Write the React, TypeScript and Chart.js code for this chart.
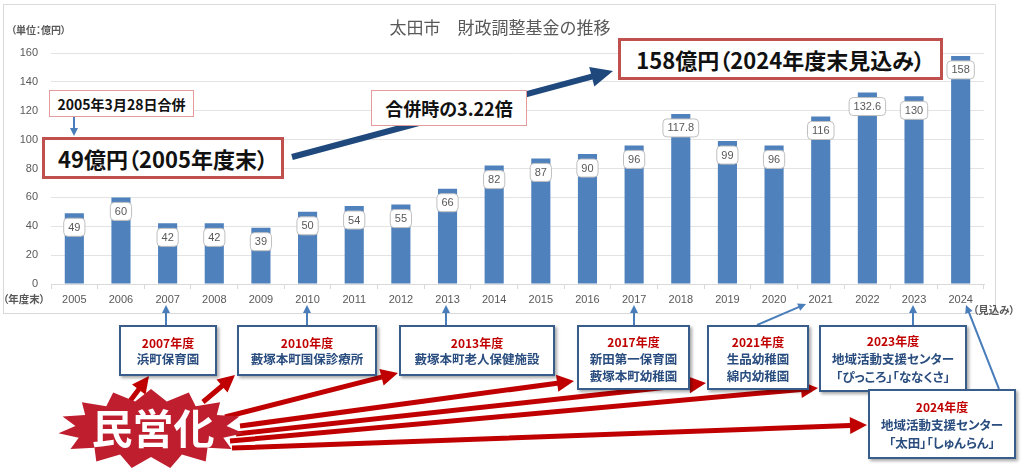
import { useEffect, useRef } from "react";
import { Chart, registerables, Plugin } from "chart.js";

Chart.register(...registerables);

const years = [
  "2005", "2006", "2007", "2008", "2009", "2010", "2011", "2012", "2013", "2014",
  "2015", "2016", "2017", "2018", "2019", "2020", "2021", "2022", "2023", "2024",
];
const fundValues = [49, 60, 42, 42, 39, 50, 54, 55, 66, 82, 87, 90, 96, 117.8, 99, 96, 116, 132.6, 130, 158];
const yMin = 0;
const yMax = 160;
const yStep = 20;

const facilityYears = ["2007年度", "2010年度", "2013年度", "2017年度", "2021年度", "2023年度", "2024年度"];
const facilityNames = [
  ["浜町保育園"],
  ["藪塚本町国保診療所"],
  ["藪塚本町老人保健施設"],
  ["新田第一保育園", "藪塚本町幼稚園"],
  ["生品幼稚園", "綿内幼稚園"],
  ["地域活動支援センター", "「ぴっころ」「ななくさ」"],
  ["地域活動支援センター", "「太田」「しゅんらん」"],
];

const jp = "'Noto Sans CJK JP', sans-serif";
const num = "'Liberation Sans', sans-serif";

// white rounded label sitting just under the top of each bar
const valueBoxPlugin: Plugin<"bar"> = {
  id: "valueBoxes",
  afterDatasetsDraw: (chart) => {
    const { ctx } = chart;
    const meta = chart.getDatasetMeta(0);
    ctx.save();
    ctx.font = `11px ${num}`;
    ctx.textAlign = "center";
    ctx.textBaseline = "middle";
    meta.data.forEach((bar, i) => {
      const text = String(fundValues[i]);
      const w = ctx.measureText(text).width + 9;
      const h = 18;
      const x = bar.x - w / 2;
      const y = bar.y + 5;
      ctx.beginPath();
      ctx.roundRect(x, y, w, h, 4);
      ctx.fillStyle = "#fff";
      ctx.fill();
      ctx.strokeStyle = "#BFBFBF";
      ctx.lineWidth = 1;
      ctx.stroke();
      ctx.fillStyle = "#595959";
      ctx.fillText(text, bar.x, y + h / 2 + 0.5);
    });
    ctx.restore();
  },
};

// polygon for a straight arrow with a triangular head
function arrowPoints(x1: number, y1: number, x2: number, y2: number, w: number, hl: number, hw: number) {
  const dx = x2 - x1;
  const dy = y2 - y1;
  const len = Math.hypot(dx, dy);
  const ux = dx / len;
  const uy = dy / len;
  const nx = -uy;
  const ny = ux;
  const bx = x2 - ux * hl;
  const by = y2 - uy * hl;
  const pts = [
    [x1 + (nx * w) / 2, y1 + (ny * w) / 2],
    [bx + (nx * w) / 2, by + (ny * w) / 2],
    [bx + (nx * hw) / 2, by + (ny * hw) / 2],
    [x2, y2],
    [bx - (nx * hw) / 2, by - (ny * hw) / 2],
    [bx - (nx * w) / 2, by - (ny * w) / 2],
    [x1 - (nx * w) / 2, y1 - (ny * w) / 2],
  ];
  return pts.map((p) => p.map((v) => v.toFixed(1)).join(",")).join(" ");
}

function starPoints(cx: number, cy: number, rx: number, ry: number, irx: number, iry: number, n: number) {
  const pts: string[] = [];
  for (let i = 0; i < n * 2; i++) {
    const a = (Math.PI * i) / n - Math.PI / 2;
    const outer = i % 2 === 0;
    const x = cx + Math.cos(a) * (outer ? rx : irx);
    const y = cy + Math.sin(a) * (outer ? ry : iry);
    pts.push(`${x.toFixed(1)},${y.toFixed(1)}`);
  }
  return pts.join(" ");
}

const boxLayout = [
  { left: 119, top: 325, width: 98, height: 51, lh: 16 },
  { left: 237, top: 325, width: 140, height: 51, lh: 16 },
  { left: 399, top: 325, width: 156, height: 51, lh: 16 },
  { left: 577, top: 325, width: 113, height: 65, lh: 17 },
  { left: 707, top: 325, width: 102, height: 65, lh: 17 },
  { left: 819, top: 325, width: 148, height: 67, lh: 18 },
  { left: 868, top: 389, width: 148, height: 70, lh: 18 },
];

const blueArrows = [
  [74, 117, 74, 136],
  [166, 325, 166, 305],
  [307, 325, 307, 305],
  [446, 325, 446, 305],
  [634, 325, 634, 305],
  [757, 325, 806, 304],
  [913, 325, 913, 305],
  [999, 389, 966, 305],
];

const redArrows = [
  [127, 405, 149, 376],
  [203, 402, 235, 375],
  [225, 417, 398, 373],
  [240, 426, 574, 381],
  [236, 434, 706, 383],
  [230, 441, 818, 388],
  [232, 448, 867, 425],
];

export default function App() {
  const chartRef = useRef<HTMLCanvasElement | null>(null);
  const chartInstance = useRef<Chart<"bar"> | null>(null);

  useEffect(() => {
    if (!chartRef.current) return;
    if (chartInstance.current) chartInstance.current.destroy();

    chartInstance.current = new Chart(chartRef.current, {
      type: "bar",
      data: {
        labels: years,
        datasets: [
          {
            data: fundValues,
            backgroundColor: "#4F81BD",
            borderWidth: 0,
            barPercentage: 0.41,
            categoryPercentage: 1,
          },
        ],
      },
      options: {
        responsive: false,
        animation: false,
        layout: { padding: { left: 0, right: 40, top: 53, bottom: 0 } },
        plugins: {
          legend: { display: false },
          tooltip: { enabled: false },
        },
        scales: {
          x: {
            offset: true,
            grid: { display: true, drawOnChartArea: false, offset: true, tickLength: 5, color: "#D9D9D9" },
            border: { color: "#D9D9D9" },
            ticks: { color: "#595959", font: { size: 11, family: num }, padding: 4, maxRotation: 0, autoSkip: false },
            afterFit: (s) => {
              s.height = 36;
            },
          },
          y: {
            min: yMin,
            max: yMax,
            ticks: { stepSize: yStep, color: "#595959", font: { size: 11, family: num }, padding: 13 },
            grid: { color: "#E3E3E3", drawTicks: false },
            border: { display: false },
            afterFit: (s) => {
              s.width = 51;
            },
          },
        },
      },
      plugins: [valueBoxPlugin],
    });

    return () => {
      chartInstance.current?.destroy();
      chartInstance.current = null;
    };
  }, []);

  const abs = (left: number, top: number): React.CSSProperties => ({ position: "absolute", left, top });

  return (
    <div
      style={{
        position: "absolute",
        left: 0,
        top: 0,
        width: 1024,
        height: 475,
        overflow: "hidden",
        background: "#fff",
        fontFamily: jp,
        fontFeatureSettings: '"palt"',
      }}
    >
      <div style={{ ...abs(3, 4), width: 991, height: 308, border: "1px solid #D9D9D9" }} />
      <canvas ref={chartRef} width={1024} height={320} style={{ ...abs(0, 0), width: 1024, height: 320 }} />

      <div
        style={{
          ...abs(300, 15),
          width: 400,
          textAlign: "center",
          fontSize: 17,
          color: "#595959",
          lineHeight: "24px",
          fontFeatureSettings: "normal",
        }}
      >
        太田市　財政調整基金の推移
      </div>
      <div style={{ ...abs(11, 22), fontSize: 10, fontWeight: 700, color: "#595959" }}>（単位：億円）</div>
      <div style={{ ...abs(3, 291), fontSize: 10.5, fontWeight: 700, color: "#595959" }}>（年度末）</div>
      <div style={{ ...abs(973, 302), fontSize: 10.5, fontWeight: 700, color: "#595959" }}>（見込み）</div>

      <svg width={1024} height={475} style={{ ...abs(0, 0), overflow: "visible" }}>
        <polygon points={arrowPoints(292, 157, 613, 71, 6, 22, 20)} fill="#1F497D" />
        {blueArrows.map((a, i) => (
          <polygon key={i} points={arrowPoints(a[0], a[1], a[2], a[3], 2, 8, 8)} fill="#4A7EBB" />
        ))}
        {redArrows.map((a, i) => (
          <polygon key={i} points={arrowPoints(a[0], a[1], a[2], a[3], 5, 17, 17)} fill="#C00000" />
        ))}
        <polygon points={starPoints(151, 429, 93, 40, 76, 28, 15)} fill="#BE1E2D" />
        <text
          x={153}
          y={444}
          textAnchor="middle"
          fontSize={41}
          fontWeight={700}
          fill="#fff"
          style={{ fontFamily: jp }}
        >
          民営化
        </text>
      </svg>

      <div
        style={{
          ...abs(49, 90),
          width: 145,
          height: 27,
          boxSizing: "border-box",
          border: "1px solid #E49B9B",
          background: "#fff",
          display: "flex",
          alignItems: "center",
          justifyContent: "center",
          fontSize: 14,
          fontWeight: 700,
          color: "#111",
        }}
      >
        2005年3月28日合併
      </div>
      <div
        style={{
          ...abs(42, 137),
          width: 242,
          height: 42,
          boxSizing: "border-box",
          border: "3.5px solid #C0504D",
          background: "#fff",
          display: "flex",
          alignItems: "center",
          justifyContent: "center",
          fontSize: 22,
          fontWeight: 700,
          color: "#111",
        }}
      >
        49億円（2005年度末）
      </div>
      <div
        style={{
          ...abs(371, 90),
          width: 156,
          height: 36,
          boxSizing: "border-box",
          border: "1px solid #E49B9B",
          background: "#fff",
          display: "flex",
          alignItems: "center",
          justifyContent: "center",
          fontSize: 18,
          fontWeight: 700,
          color: "#111",
        }}
      >
        合併時の3.22倍
      </div>
      <div
        style={{
          ...abs(618, 38),
          width: 325,
          height: 42,
          boxSizing: "border-box",
          border: "3.5px solid #C0504D",
          background: "#fff",
          display: "flex",
          alignItems: "center",
          justifyContent: "center",
          fontSize: 22,
          fontWeight: 700,
          color: "#111",
        }}
      >
        158億円（2024年度末見込み）
      </div>

      {facilityYears.map((fy, i) => {
        const b = boxLayout[i];
        return (
          <div
            key={fy + i}
            style={{
              ...abs(b.left, b.top),
              width: b.width,
              height: b.height,
              boxSizing: "border-box",
              border: "2px solid #385D8A",
              background: "#fff",
              boxShadow: "2px 2px 3px rgba(0,0,0,0.35)",
              display: "flex",
              flexDirection: "column",
              alignItems: "center",
              justifyContent: "center",
              fontWeight: 700,
              lineHeight: `${b.lh}px`,
              paddingTop: 1,
              whiteSpace: "nowrap",
            }}
          >
            <div style={{ color: "#C00000", fontSize: 12 }}>{fy}</div>
            {facilityNames[i].map((n) => (
              <div key={n} style={{ color: "#2A4D7F", fontSize: 12.5 }}>
                {n}
              </div>
            ))}
          </div>
        );
      })}
    </div>
  );
}
